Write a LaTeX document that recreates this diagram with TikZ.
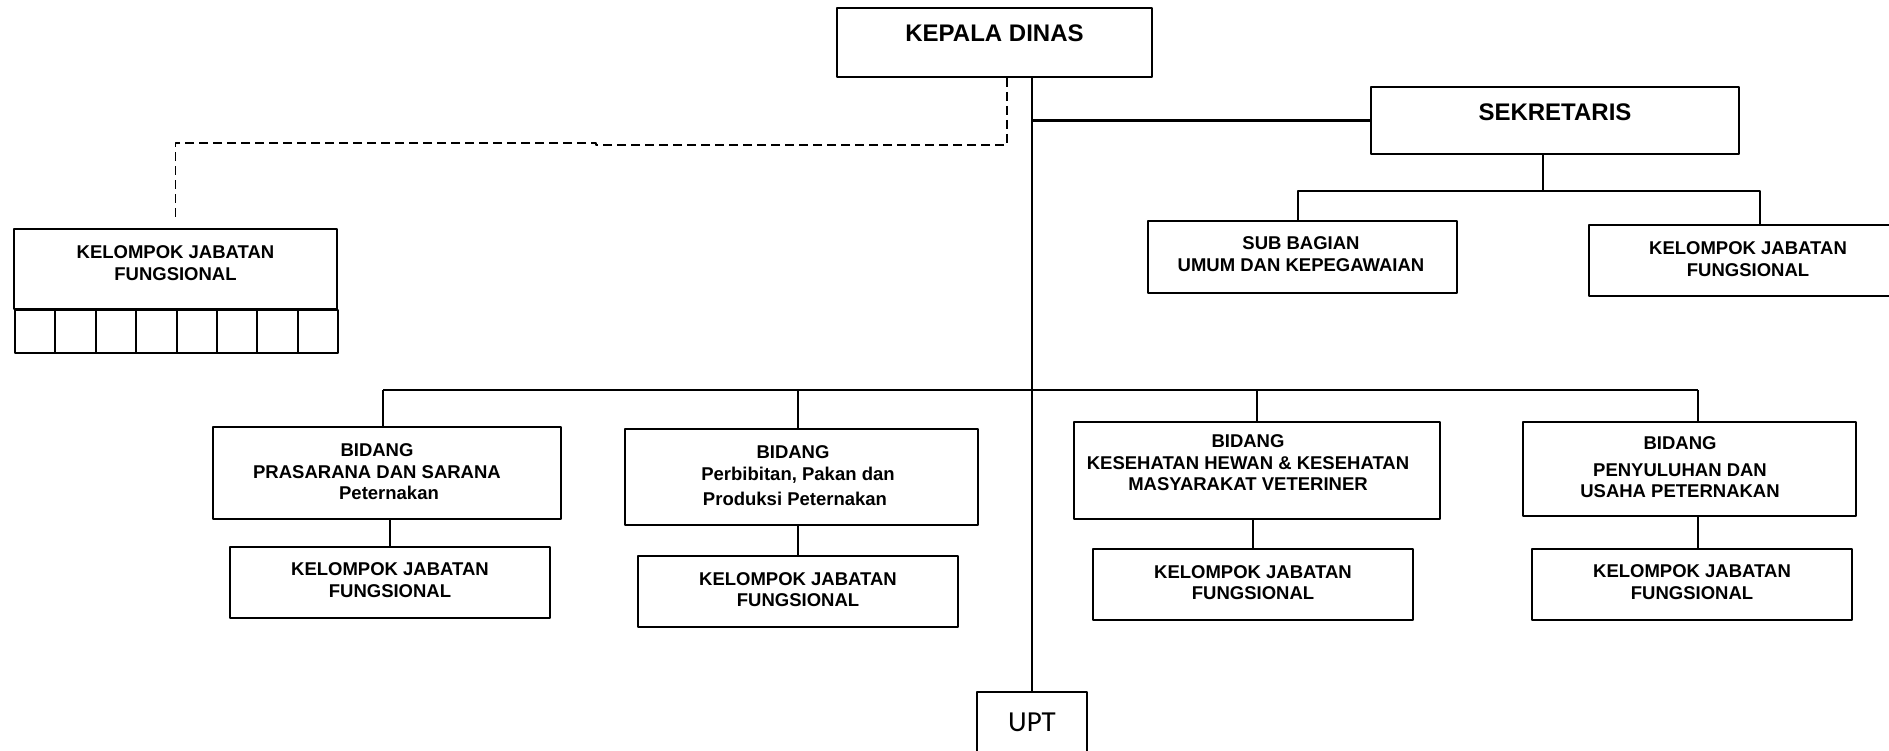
\documentclass[tikz,border=0pt]{standalone}
\usepackage{fontspec}
\setmainfont{Liberation Sans}
\newfontfamily\uptfont{Carlito}
\begin{document}
\begin{tikzpicture}[x=1pt, y=-1pt, line join=round, font=\bfseries,
	box/.style={draw, line width=2pt, inner sep=0pt},
	big/.style={font=\fontsize{24}{28}\selectfont\bfseries},
	small/.style={font=\fontsize{18.5}{21.5}\selectfont\bfseries, align=center},
	conn/.style={line width=1.6pt},
	link/.style={line width=2.8pt},
	dashline/.style={line width=1.8pt, dash pattern=on 9pt off 5pt}]
	\useasboundingbox (0,0) rectangle (1889,751);
	\path (0,390) coordinate (barY);
	% kepala, sekretaris
	\node[box, minimum width=315pt, minimum height=69pt, label={[big, yshift=9pt]center:{KEPALA DINAS}}] (kd) at (994.5,42.5) {};
	\node[box, minimum width=368pt, minimum height=67pt, label={[big, yshift=8.5pt]center:{SEKRETARIS}}] (sek) at (1555,120.5) {};
	\node[box, minimum width=309pt, minimum height=72pt, label={[small, xshift=-1.5pt, yshift=3pt]center:{SUB BAGIAN\\UMUM DAN KEPEGAWAIAN}}] (sub) at (1302.5,257) {};
	\node[box, minimum width=318pt, minimum height=71pt, label={[small, yshift=1.5pt]center:{KELOMPOK JABATAN\\FUNGSIONAL}}] (kjfR) at (1748,260.5) {};
	% kelompok kiri
	\node[box, minimum width=323pt, minimum height=80pt, label={[small, yshift=6pt]center:{KELOMPOK JABATAN\\FUNGSIONAL}}] (kjfL) at (175.5,269) {};
	\foreach \i in {0,...,7}{\node[box, minimum width=40.375pt, minimum height=43pt, anchor=north west] (cell\i) at ({14+40.375*\i},309) {};}
	% bidang
	\node[box, minimum width=348pt, minimum height=92pt, label={[small, xshift=-10pt, yshift=1pt]center:{BIDANG\\PRASARANA DAN SARANA\\\hspace*{24pt}Peternakan}}] (bid1) at (387,473) {};
	\node[box, minimum width=353pt, minimum height=96pt, label={[small, xshift=-3.5pt, yshift=1pt]center:{BIDANG\hspace*{10pt}\\Perbibitan, Pakan dan\\[4pt]Produksi Peternakan\hspace*{6pt}}}] (bid2) at (801.5,477) {};
	\node[box, minimum width=366pt, minimum height=97pt, label={[small, xshift=-9pt, yshift=7.5pt]center:{BIDANG\\KESEHATAN HEWAN \& KESEHATAN\\MASYARAKAT VETERINER}}] (bid3) at (1257,470.5) {};
	\node[box, minimum width=333pt, minimum height=94pt, label={[small, xshift=-9.5pt, yshift=1.5pt]center:{BIDANG\\[5pt]PENYULUHAN DAN\\USAHA PETERNAKAN}}] (bid4) at (1689.5,469) {};
	\foreach \k/\x/\y in {kjf1/390/582, kjf2/798/591.5, kjf3/1253/584.5, kjf4/1692/584}{
		\node[box, minimum width=320pt, minimum height=71pt, label={[small, yshift=2pt]center:{KELOMPOK JABATAN\\FUNGSIONAL}}] (\k) at (\x,\y) {};}
	\node[box, minimum width=110pt, minimum height=61pt, font=\uptfont\mdseries\fontsize{29}{32}\selectfont] (upt) at (1032,722.5) {UPT};
	% garis
	\draw[conn] (kd.south -| upt.north) -- (upt.north);
	\draw[link] (sek.west -| upt.north) -- (sek.west);
	\draw[dashline] ([xshift=12.5pt]kd.south) |- (596,145) -- (596,143) -| ([yshift=9pt]kjfL.north);
	\draw[conn] ([xshift=-12pt]sek.south) -- ++(0,36) coordinate (sekJ);
	\draw[conn] ([xshift=-4.5pt]sub.north) |- (sekJ) -| ([xshift=12pt]kjfR.north);
	\draw[conn] ([xshift=-4pt]bid1.north |- barY) -- ([xshift=8.5pt]bid4.north |- barY);
	\foreach \b/\s in {bid1/-4, bid2/-3.5, bid3/0, bid4/8.5}{\draw[conn] ([xshift=\s pt]\b.north) -- ([xshift=\s pt]\b.north |- barY);}
	\foreach \b/\k/\s in {bid1/kjf1/0, bid2/kjf2/0, bid3/kjf3/0, bid4/kjf4/6}{\draw[conn] ([xshift=\s pt]\k.north) -- ([xshift=\s pt]\k.north |- \b.south);}
\end{tikzpicture}
\end{document}
